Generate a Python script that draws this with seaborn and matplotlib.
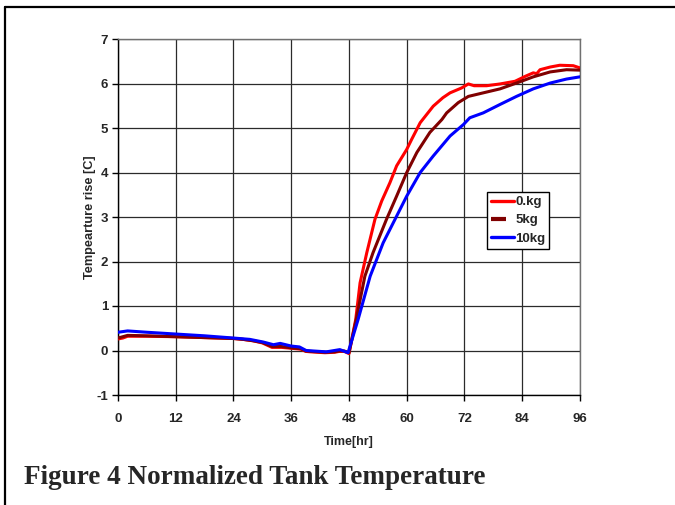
import matplotlib
matplotlib.use("Agg")
import matplotlib.pyplot as plt
import seaborn as sns
from matplotlib.lines import Line2D

sns.set_theme(style="white")
plt.rcParams['font.family'] = ['Liberation Sans', 'DejaVu Sans']
plt.rcParams['axes.unicode_minus'] = False

# ---- data ----
t_0kg = [0, 1, 2, 6, 12, 18, 24, 26, 28, 30, 31, 32, 34, 36, 38, 39, 40, 43, 45, 46, 47, 48,
         49.4, 50.3, 51.7, 53.4, 54.8, 56.5, 57.9, 60, 61, 62.8, 65.5, 67.5, 69, 71.4, 72.8,
         74, 76.6, 79.4, 82.5, 84.6, 86.3, 87, 87.7, 89.8, 91.8, 94.6, 96]
v_0kg = [0.26, 0.28, 0.32, 0.32, 0.31, 0.29, 0.27, 0.25, 0.22, 0.17, 0.12, 0.07, 0.07, 0.05,
         0.03, -0.02, -0.03, -0.05, -0.04, -0.02, -0.02, -0.07,
         0.7, 1.52, 2.2, 2.95, 3.36, 3.77, 4.15, 4.52, 4.74, 5.12, 5.49, 5.68, 5.79, 5.9, 5.99,
         5.95, 5.95, 5.99, 6.05, 6.16, 6.24, 6.22, 6.31, 6.37, 6.41, 6.4, 6.35]

t_5kg = [0, 1, 2, 6, 12, 18, 24, 26, 28, 30, 32, 34, 36, 38, 39, 40, 43, 45, 46, 47, 48,
         49.5, 51.3, 53, 55.8, 57.9, 60, 62.1, 64.8, 67.3, 68.3, 70.7, 72.8, 75.9, 79.4,
         82.8, 86.3, 89.8, 93.2, 96]
v_5kg = [0.28, 0.31, 0.34, 0.33, 0.31, 0.29, 0.27, 0.25, 0.22, 0.18, 0.09, 0.09, 0.06, 0.04,
         -0.01, -0.02, -0.04, -0.03, -0.01, -0.01, -0.05,
         0.7, 1.67, 2.2, 2.95, 3.47, 4.0, 4.45, 4.9, 5.19, 5.34, 5.57, 5.71, 5.79, 5.88,
         6.01, 6.15, 6.26, 6.31, 6.3]

t_10kg = [0, 2, 6, 12, 18, 24, 27.4, 30.2, 32.3, 33.7, 36, 37.7, 39.1, 43.3, 46.1, 47.8,
          49.9, 52.4, 55.1, 57.9, 60, 62.8, 65.5, 69, 71.8, 73.1, 75.9, 79.4, 82.8, 86.3,
          89.8, 93.2, 96]
v_10kg = [0.41, 0.44, 0.41, 0.37, 0.33, 0.28, 0.25, 0.19, 0.13, 0.16, 0.1, 0.08, 0.0, -0.03,
          0.02, -0.05,
          0.7, 1.67, 2.42, 3.02, 3.47, 4.0, 4.37, 4.82, 5.08, 5.23, 5.34, 5.53, 5.71, 5.88,
          6.01, 6.1, 6.15]

series_labels = ["0.kg", "5kg", "10kg"]
series_colors = ["#FF0000", "#800000", "#0000FF"]
x_ticks = [0, 12, 24, 36, 48, 60, 72, 84, 96]
y_ticks = [-1, 0, 1, 2, 3, 4, 5, 6, 7]
x_label = "Time[hr]"
y_label = "Tempearture rise [C]"
caption = "Figure 4 Normalized Tank Temperature"

W, H = 675, 505
fig = plt.figure(figsize=(W / 100, H / 100), dpi=100)
fig.patch.set_facecolor("white")
ax = fig.add_axes([118 / W, 1 - 395 / H, (580 - 118) / W, (395 - 39) / H])

data = [(t_0kg, v_0kg), (t_5kg, v_5kg), (t_10kg, v_10kg)]
for (tx, vy), lab, col in zip(data, series_labels, series_colors):
    sns.lineplot(x=tx, y=vy, ax=ax, color=col, linewidth=2.2, sort=False,
                 estimator=None, label=lab, zorder=3)

ax.set_xlim(0, 96)
ax.set_ylim(-1, 7)
ax.set_xticks(x_ticks)
ax.set_yticks(y_ticks)
ax.grid(True, color="#2b2b2b", linewidth=0.9)
ax.set_axisbelow(True)
for s in ["left", "bottom"]:
    ax.spines[s].set_color("black")
    ax.spines[s].set_linewidth(1.0)
for s in ["top", "right"]:
    ax.spines[s].set_color("#707070")
    ax.spines[s].set_linewidth(1.0)
ax.tick_params(axis="both", which="major", direction="out", length=4, width=1,
               color="black", labelsize=9.5, pad=3, bottom=True, left=True)
for lbl in ax.get_xticklabels() + ax.get_yticklabels():
    lbl.set_fontweight("bold")
ax.tick_params(axis="x", pad=9)
ax.set_xlabel(x_label, fontsize=9, fontweight="bold", labelpad=8)
ax.set_ylabel(y_label, fontsize=9.2, fontweight="bold", labelpad=0.5)

# legend
handles = [
    Line2D([], [], color=series_colors[0], linewidth=2.4),
    Line2D([], [], color=series_colors[1], linewidth=3.0, linestyle=(0.4, (4.0, 10))),
    Line2D([], [], color=series_colors[2], linewidth=2.4),
]
leg = ax.legend(handles, series_labels, loc="upper left",
                bbox_to_anchor=((487 - 118) / 462, (395 - 192) / 356),
                frameon=True, fancybox=False, edgecolor="black", framealpha=1,
                prop={"weight": "bold", "size": 9.5},
                handlelength=1.75, handletextpad=0.1, borderpad=0.3, labelspacing=0.45,
                borderaxespad=0)
leg.get_frame().set_linewidth(1.0)
leg.set_zorder(5)

# outer border (top and left edges visible)
fig.add_artist(Line2D([5 / W, 1.0], [1 - 7 / H, 1 - 7 / H], color="black", linewidth=1.6,
                      transform=fig.transFigure))
fig.add_artist(Line2D([5 / W, 5 / W], [0, 1 - 7 / H], color="black", linewidth=1.6,
                      transform=fig.transFigure))

# caption fitted to width
cap = fig.text(24 / W, 1 - 484 / H, caption, fontsize=16, fontweight="bold",
               family=["Liberation Serif", "DejaVu Serif"], ha="left", va="baseline")
fig.canvas.draw()
bb = cap.get_window_extent()
cap.set_fontsize(16 * (487 - 24) / bb.width)

fig.savefig("out.png", dpi=100, facecolor="white")
